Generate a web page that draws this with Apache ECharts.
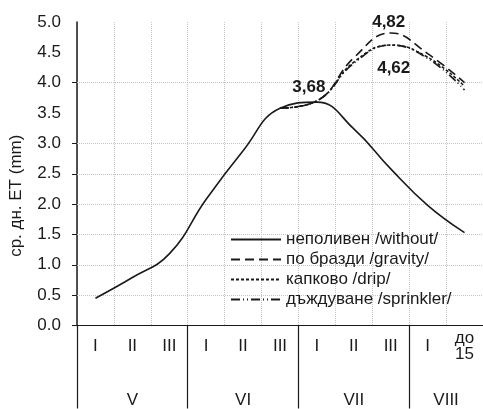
<!DOCTYPE html>
<html>
<head>
<meta charset="utf-8">
<script src="https://cdn.jsdelivr.net/npm/echarts@6/dist/echarts.min.js"></script>
<style>
  html, body { margin: 0; padding: 0; background: #fff; }
  #chart { width: 483px; height: 409px; }
</style>
</head>
<body>
<div id="chart"></div>
<script>
// декади по месеци
var dekads = ['I', 'II', 'III', 'I', 'II', 'III', 'I', 'II', 'III', 'I', 'до\n15'];
var months = ['V', 'VI', 'VII', 'VIII'];
var monthCenters = [1.5, 4.5, 7.5, 10];
var monthBounds = [0, 3, 6, 9];
var yTicks = [0, 0.5, 1, 1.5, 2, 2.5, 3, 4];

// ср. дн. ЕТ (mm)
var without = [0.45, 0.79, 1.18, 2.08, 2.88, 3.58, 3.68, 3.24, 2.58, 1.98, 1.53];
var gravity = [null, null, null, null, null, 3.58, 3.70, 4.41, 4.82, 4.48, 4.00];
var drip = [null, null, null, null, null, 3.58, 3.70, 4.34, 4.62, 4.42, 3.94];
var sprinkler = [null, null, null, null, null, 3.58, 3.70, 4.32, 4.62, 4.40, 3.88];

var names = ['неполивен /without/', 'по бразди /gravity/', 'капково /drip/', 'дъждуване /sprinkler/'];

var font = 'Liberation Sans, Arial, sans-serif';
var ink = '#1a1a1a';
var grid = '#c4c4c4';

function fmt(v) {
    return String(v).replace('.', ',');
}

// подпис само на избрана точка
function withLabel(arr, idx, pos, dist, offset) {
    return arr.map(function (v, i) {
        if (i !== idx) {
            return v;
        }
        return {
            value: v,
            label: {
                show: true,
                position: pos,
                distance: dist,
                offset: offset,
                formatter: fmt(v),
                fontFamily: font,
                fontSize: 17,
                fontWeight: 'bold',
                color: ink
            }
        };
    });
}

function serie(name, data, dash) {
    return {
        name: name,
        type: 'line',
        data: data,
        smooth: 0.45,
        symbol: 'circle',
        symbolSize: 0,
        showSymbol: true,
        connectNulls: false,
        xAxisIndex: 0,
        lineStyle: {color: ink, width: 1.6, type: dash},
        itemStyle: {color: ink},
        z: 3
    };
}

var series = [
    serie(names[0], withLabel(without, 6, 'top', 6, [-8, 0]), 'solid'),
    serie(names[1], withLabel(gravity, 8, 'top', 2, [-2, 0]), [9, 5]),
    serie(names[2], withLabel(drip, 8, 'bottom', 15, [3, 0]), [3, 2]),
    serie(names[3], sprinkler, [9, 3, 1, 3, 1, 3])
];
// хоризонтални линии на мрежата
series[0].markLine = {
    silent: true,
    symbol: 'none',
    label: {show: false},
    lineStyle: {color: grid, type: 'dotted', width: 1},
    data: yTicks.slice(1).map(function (v) {
        return {yAxis: v};
    }),
    z: 1
};

var chart = echarts.init(document.getElementById('chart'));
chart.setOption({
    animation: false,
    grid: {left: 73, right: 0, top: 22, bottom: 83},
    legend: {
        orient: 'vertical',
        left: 225,
        top: 226,
        itemWidth: 50,
        itemHeight: 14,
        itemGap: 3,
        data: names,
        itemStyle: {opacity: 0},
        textStyle: {fontFamily: font, fontSize: 17, color: ink}
    },
    xAxis: [{
        type: 'category',
        data: dekads,
        boundaryGap: true,
        axisLine: {lineStyle: {color: ink, width: 1.2}},
        axisTick: {length: 54, lineStyle: {color: ink, width: 1.2}},
        axisLabel: {
            interval: 0,
            margin: 21,
            verticalAlign: 'middle',
            lineHeight: 16,
            fontFamily: font,
            fontSize: 17,
            color: ink
        },
        splitLine: {show: true, lineStyle: {color: grid, type: 'dotted'}}
    }, {
        type: 'value',
        min: 0,
        max: 11,
        position: 'bottom',
        axisLine: {show: false},
        axisTick: {show: true, customValues: monthBounds, length: 83, lineStyle: {color: ink, width: 1.2}},
        axisLabel: {
            customValues: monthCenters,
            margin: 75,
            verticalAlign: 'middle',
            fontFamily: font,
            fontSize: 17,
            color: ink,
            formatter: function (v) {
                return months[monthCenters.indexOf(v)];
            }
        },
        splitLine: {show: false}
    }],
    yAxis: {
        type: 'value',
        min: 0,
        max: 5,
        interval: 0.5,
        name: 'ср. дн. ЕТ (mm)',
        nameLocation: 'middle',
        nameGap: 52,
        nameRotate: 90,
        nameTextStyle: {fontFamily: font, fontSize: 17, color: ink, padding: [0, 44, 0, 0]},
        axisLine: {show: true, lineStyle: {color: ink, width: 1.5}},
        axisTick: {show: true, length: 5, customValues: yTicks, lineStyle: {color: ink}},
        axisLabel: {
            margin: 16,
            fontFamily: font,
            fontSize: 17,
            color: ink,
            formatter: function (v) {
                return v.toFixed(1);
            }
        },
        splitLine: {show: false}
    },
    series: series
});
</script>
</body>
</html>
